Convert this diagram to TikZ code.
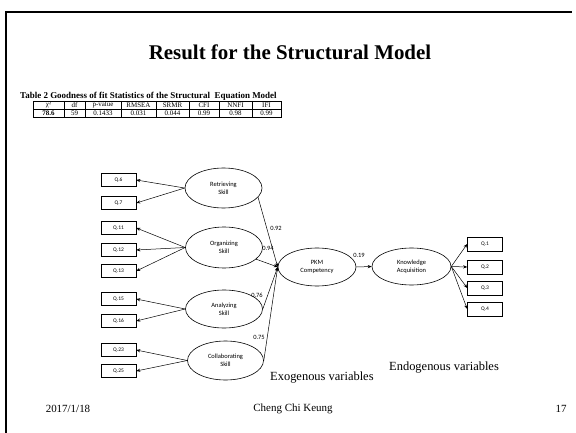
\documentclass[tikz,border=0pt]{standalone}
\usepackage{fontspec}
\setmainfont{Liberation Serif}
\newfontfamily\calfont{Carlito}
\usetikzlibrary{arrows.meta,shapes.geometric}
\begin{document}
\begin{tikzpicture}[x=1bp,y=-1bp,
  qbox/.style={draw,line width=0.6bp,minimum width=35bp,minimum height=13bp,inner sep=0pt,font=\calfont\fontsize{5.5}{6}\selectfont},
  rbox/.style={qbox,minimum width=35bp,minimum height=14bp},
  latent/.style={draw,ellipse,line width=0.6bp,minimum width=77bp,minimum height=40bp,inner sep=0pt,align=center,font=\calfont\fontsize{6.5}{8}\selectfont},
  arr/.style={-{Stealth[length=4bp,width=3.2bp]},line width=0.5bp},
  coef/.style={font=\calfont\fontsize{6.5}{7}\selectfont,inner sep=0pt},
  cell/.style={font=\fontsize{7}{7}\selectfont,inner sep=0pt},
  txt/.style={inner sep=0pt}
]
\useasboundingbox (0,0) rectangle (576,433);
% frame
\draw[line width=1.6bp] (6,433) -- (6,12) -- (572,12);
% title
\node[txt] (title) at (290,52) {\bfseries\fontsize{21}{24}\selectfont Result for the Structural Model};
\node[txt,anchor=west] (cap) at (20,96) {\bfseries\fontsize{9}{10}\selectfont Table 2 Goodness of fit Statistics of the Structural\ \ Equation Model};
% table
\draw[line width=0.5bp] (33,101) rectangle (281,117);
\draw[line width=0.5bp] (33,109) -- (281,109);
\foreach \xx in {64,85,121,156,189,219,252} \draw[line width=0.5bp] (\xx,101) -- (\xx,117);
\node[cell] (h1) at (48.5,105) {χ²};
\node[cell] (h2) at (74.5,105) {df};
\node[cell] (h3) at (103,105) {p-value};
\node[cell] (h4) at (138.5,105) {RMSEA};
\node[cell] (h5) at (172.5,105) {SRMR};
\node[cell] (h6) at (204,105) {CFI};
\node[cell] (h7) at (235.5,105) {NNFI};
\node[cell] (h8) at (266.5,105) {IFI};
\node[cell] (v1) at (48.5,113) {\bfseries 78.6};
\node[cell] (v2) at (74.5,113) {59};
\node[cell] (v3) at (103,113) {0.1433};
\node[cell] (v4) at (138.5,113) {0.031};
\node[cell] (v5) at (172.5,113) {0.044};
\node[cell] (v6) at (204,113) {0.99};
\node[cell] (v7) at (235.5,113) {0.98};
\node[cell] (v8) at (266.5,113) {0.99};
% indicator boxes
\node[qbox] (q6) at (118.5,180) {Q.6};
\node[qbox] (q7) at (118.5,203) {Q.7};
\node[qbox] (q11) at (118.5,228) {Q.11};
\node[qbox] (q12) at (118.5,250) {Q.12};
\node[qbox] (q13) at (118.5,271) {Q.13};
\node[qbox] (q15) at (118.5,299) {Q.15};
\node[qbox] (q16) at (118.5,321) {Q.16};
\node[qbox] (q23) at (118.5,350) {Q.23};
\node[qbox] (q25) at (118.5,371) {Q.25};
% latents
\node[latent] (ret) at (223.5,188) {Retrieving\\Skill};
\node[latent,minimum height=41bp] (org) at (224,247.5) {Organizing\\Skill};
\node[latent,minimum height=38bp] (ana) at (224,309) {Analyzing\\Skill};
\node[latent,minimum width=76bp,minimum height=39bp] (col) at (225.5,360.5) {Collaborating\\Skill};
\node[latent,minimum width=78bp,minimum height=38bp] (pkm) at (317,267) {PKM\\Competency};
\node[latent,minimum width=79bp,minimum height=37bp] (ka) at (411.5,266.5) {Knowledge\\Acquisition};
\node[rbox] (q1) at (485,244) {Q.1};
\node[rbox] (q2) at (485,267) {Q.2};
\node[rbox] (q3) at (485,288) {Q.3};
\node[rbox] (q4) at (485,309) {Q.4};
% measurement arrows
\draw[arr] (ret.west) -- (q6.east);
\draw[arr] (ret.west) -- (q7.east);
\draw[arr] (org.west) -- (q11.east);
\draw[arr] (org.west) -- (q12.east);
\draw[arr] (org.west) -- (q13.east);
\draw[arr] (ana.west) -- (q15.east);
\draw[arr] (ana.west) -- (q16.east);
\draw[arr] (col.west) -- (q23.east);
\draw[arr] (col.west) -- (q25.east);
\draw[arr] (ka.east) -- (q1.west);
\draw[arr] (ka.east) -- (q2.west);
\draw[arr] (ka.east) -- (q3.west);
\draw[arr] (ka.east) -- (q4.west);
% structural arrows
\draw[arr] (ret.-15) -- (pkm.west);
\draw[arr] (org.-20) -- (pkm.west);
\draw[arr] (ana.east) -- (pkm.west);
\draw[arr] (col.east) -- (pkm.west);
\draw[arr] (pkm.east) -- (ka.west);
% coefficients
\node[coef] (c92) at (276,228) {0.92};
\node[coef] (c94) at (268,248) {0.94};
\node[coef] (c76) at (257,295) {0.76};
\node[coef] (c75) at (259,337) {0.75};
\node[coef] (c19) at (359,255) {0.19};
% captions
\node[txt,anchor=west,font=\fontsize{12.5}{14}\selectfont] (exo) at (270,378) {Exogenous variables};
\node[txt,anchor=west,font=\fontsize{12.5}{14}\selectfont] (endo) at (389,368) {Endogenous variables};
% footer
\node[txt,font=\fontsize{11}{12}\selectfont] (date) at (68,409) {2017/1/18};
\node[txt,font=\fontsize{11}{12}\selectfont] (auth) at (293,409) {Cheng Chi Keung};
\node[txt,font=\fontsize{11}{12}\selectfont] (num) at (561,409) {17};
\end{tikzpicture}
\end{document}
